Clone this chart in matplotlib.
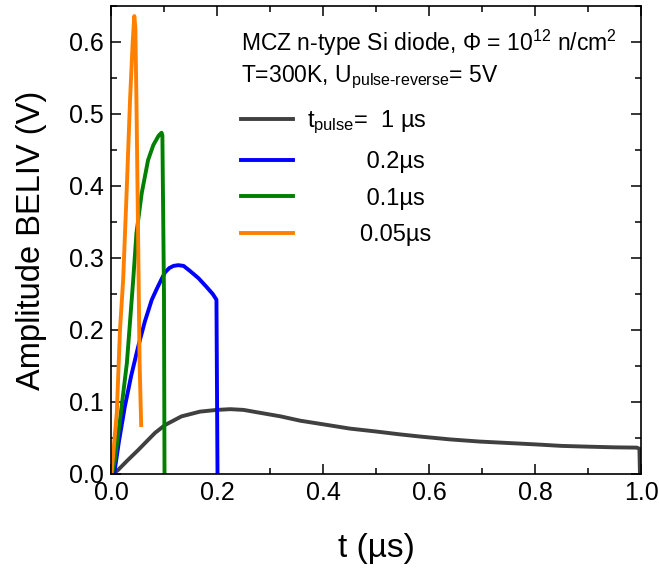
import matplotlib
matplotlib.use('Agg')
import matplotlib.pyplot as plt
from matplotlib.ticker import MultipleLocator

plt.rcParams['font.family'] = ['Liberation Sans', 'DejaVu Sans']
plt.rcParams['mathtext.fontset'] = 'custom'
plt.rcParams['mathtext.rm'] = 'Liberation Sans'
plt.rcParams['mathtext.it'] = 'Liberation Sans'

# t_pulse = 1 us
t_1us = [0.004, 0.014, 0.03, 0.051, 0.083, 0.102, 0.133, 0.168, 0.2, 0.225, 0.25,
         0.281, 0.32, 0.357, 0.4, 0.451, 0.5, 0.545, 0.583, 0.64, 0.696, 0.75,
         0.803, 0.85, 0.897, 0.95, 0.992, 0.997, 0.998]
a_1us = [0.0, 0.006, 0.018, 0.033, 0.057, 0.068, 0.08, 0.0866, 0.089, 0.090, 0.089,
         0.085, 0.08, 0.074, 0.069, 0.063, 0.059, 0.055, 0.052, 0.048, 0.045, 0.043,
         0.041, 0.039, 0.038, 0.037, 0.0366, 0.035, 0.0]

# t_pulse = 0.2 us
t_02 = [0.006, 0.015, 0.026, 0.038, 0.051, 0.064, 0.077, 0.087, 0.095, 0.102, 0.11,
        0.118, 0.127, 0.137, 0.149, 0.165, 0.18, 0.192, 0.199, 0.2, 0.201]
a_02 = [0.0, 0.045, 0.093, 0.136, 0.176, 0.212, 0.242, 0.258, 0.27, 0.28, 0.286,
        0.289, 0.29, 0.289, 0.282, 0.272, 0.26, 0.25, 0.242, 0.12, 0.0]

# t_pulse = 0.1 us
t_01 = [0.002, 0.0075, 0.017, 0.03, 0.042, 0.048, 0.058, 0.07, 0.08, 0.09, 0.0955,
        0.097, 0.1, 0.101]
a_01 = [0.0, 0.02, 0.075, 0.154, 0.27, 0.334, 0.39, 0.436, 0.457, 0.47, 0.474,
        0.47, 0.25, 0.0]

# t_pulse = 0.05 us
t_005 = [0.001, 0.011, 0.017, 0.023, 0.03, 0.036, 0.041, 0.044, 0.046, 0.048, 0.051,
         0.054, 0.057]
a_005 = [0.0, 0.085, 0.2, 0.27, 0.4, 0.52, 0.6, 0.636, 0.62, 0.52, 0.343,
         0.154, 0.068]

labels = ['$t_{\\mathregular{pulse}}$=  1 \u00b5s', '         0.2\u00b5s',
          '         0.1\u00b5s', '        0.05\u00b5s']
colors = ['#404040', '#0000ff', '#008000', '#ff8000']

fig = plt.figure(figsize=(6.59, 5.75), dpi=100)
ax = fig.add_axes([0.1684, 0.1757, 0.8043, 0.8139])

series = [(t_1us, a_1us), (t_02, a_02), (t_01, a_01), (t_005, a_005)]
for (t, a), c, lab in zip(series, colors, labels):
    ax.plot(t, a, color=c, lw=2.8, label=lab, solid_joinstyle='round')

ax.set_xlim(0, 1.0)
ax.set_ylim(0, 0.65)
ax.xaxis.set_major_locator(MultipleLocator(0.2))
ax.xaxis.set_minor_locator(MultipleLocator(0.1))
ax.yaxis.set_major_locator(MultipleLocator(0.1))
ax.yaxis.set_minor_locator(MultipleLocator(0.05))
ax.tick_params(which='both', direction='in', top=True, right=True,
               width=1.1, labelsize=18)
ax.tick_params(which='major', length=7, pad=5)
ax.tick_params(which='minor', length=4)
for s in ax.spines.values():
    s.set_linewidth(1.2)

ax.set_xlabel('t (\u00b5s)', fontsize=24, labelpad=20)
ax.set_ylabel('Amplitude BELIV (V)', fontsize=23.5, labelpad=16)

ax.text(0.245, 0.921, 'MCZ n-type Si diode, \u03a6 = $\\mathregular{10^{12}}$ n/cm$\\mathregular{^2}$',
        transform=ax.transAxes, fontsize=16.5, va='center')
ax.text(0.245, 0.848, 'T=300K, U$_{\\mathregular{pulse\\text{-}reverse}}$= 5V',
        transform=ax.transAxes, fontsize=16.5, va='center')

ax.legend(loc='upper left', bbox_to_anchor=(0.228, 0.80), frameon=False,
          fontsize=17, handlelength=2.2, handletextpad=0.6,
          labelspacing=0.62, borderaxespad=0)

fig.savefig('out.png', dpi=100)
